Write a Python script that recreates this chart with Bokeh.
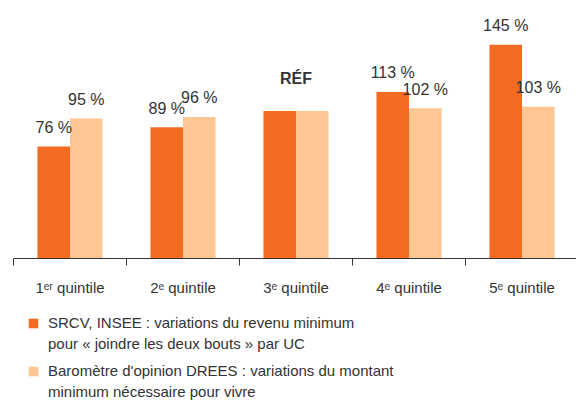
from bokeh.plotting import figure
from bokeh.layouts import column
from bokeh.models import Range1d, FixedTicker, Legend, LegendItem, ColumnDataSource
from bokeh.core.properties import value
from bokeh.embed import file_html
from bokeh.resources import INLINE

categories = ["1ᵉʳ quintile", "2ᵉ quintile", "3ᵉ quintile", "4ᵉ quintile", "5ᵉ quintile"]
srcv = [76, 89, 100, 113, 145]
barometre = [95, 96, 100, 102, 103]
srcv_labels = ["76 %", "89 %", "", "113 %", "145 %"]
baro_labels = ["95 %", "96 %", "", "102 %", "103 %"]
ref_label = "RÉF"
legend_srcv = ["SRCV, INSEE : variations du revenu minimum",
               "pour « joindre les deux bouts » par UC"]
legend_baro = ["Baromètre d'opinion DREES : variations du montant",
               "minimum nécessaire pour vivre"]

FONT = "Liberation Sans"
FS = "15px"
DARK = "#F26B21"
LIGHT = "#FDC692"
TXT = "#333333"

n = len(categories)
bw = 0.288
centers = [i + 0.5 for i in range(n)]

p = figure(width=576, height=308, output_backend="svg", toolbar_location=None,
           x_range=Range1d(0, 4.982), y_range=Range1d(0, 169.6),
           min_border_left=13, min_border_right=0, min_border_top=8, min_border_bottom=50)
p.outline_line_color = None
p.grid.visible = False
p.yaxis.visible = False

src1 = ColumnDataSource(dict(x=[c - bw / 2 for c in centers], top=srcv, lab=srcv_labels))
src2 = ColumnDataSource(dict(x=[c + bw / 2 for c in centers], top=barometre, lab=baro_labels))
p.vbar(x="x", top="top", width=bw, source=src1, fill_color=DARK, line_color=None)
p.vbar(x="x", top="top", width=bw, source=src2, fill_color=LIGHT, line_color=None)

for s in (src1, src2):
    p.text(x="x", y="top", text="lab", source=s, text_align="center", text_baseline="alphabetic",
           y_offset=-19, text_font=value(FONT), text_font_size="16px", text_color=TXT)

p.text(x=[centers[2]], y=[barometre[2]], text=[ref_label], text_align="center",
       text_baseline="alphabetic", y_offset=-33, text_font=value(FONT),
       text_font_size="16px", text_font_style="bold", text_color=TXT)

ax = p.xaxis[0]
ax.ticker = FixedTicker(ticks=centers, minor_ticks=list(range(n + 1)))
ax.major_label_overrides = {c: lab for c, lab in zip(centers, categories)}
ax.major_tick_out = 0
ax.major_tick_in = 0
ax.minor_tick_out = 7
ax.minor_tick_in = 0
ax.minor_tick_line_color = TXT
ax.axis_line_color = TXT
ax.axis_line_width = 1.2
ax.major_label_standoff = 13
ax.major_label_text_font = FONT
ax.major_label_text_font_size = FS
ax.major_label_text_color = TXT

# legend figure (its x range lies away from the bars, so only the legend shows)
pl = figure(width=576, height=92, output_backend="svg", toolbar_location=None,
            x_range=Range1d(-20, -19), y_range=Range1d(0, 1),
            min_border_left=0, min_border_right=0, min_border_top=0, min_border_bottom=0)
pl.axis.visible = False
pl.grid.visible = False
pl.outline_line_color = None
l1 = pl.vbar(x="x", top="top", width=bw, source=src1, fill_color=DARK, line_color=None)
l2 = pl.vbar(x="x", top="top", width=bw, source=src2, fill_color=LIGHT, line_color=None)
lb = pl.vbar(x="x", top="top", width=bw, source=src1, fill_alpha=0, line_alpha=0)


def make_legend(lines, rend, loc):
    return Legend(items=[LegendItem(label=lines[0], renderers=[rend]),
                         LegendItem(label=lines[1], renderers=[lb])],
                  location=loc, orientation="vertical",
                  glyph_width=12, glyph_height=12, label_standoff=9,
                  label_text_font=FONT, label_text_font_size=FS, label_text_color=TXT,
                  label_height=21, spacing=0, padding=0, margin=0,
                  border_line_color=None, background_fill_alpha=0)


pl.add_layout(make_legend(legend_srcv, l1, (14, 46)))
pl.add_layout(make_legend(legend_baro, l2, (14, -2)))

open("out.html", "w").write(file_html(column(p, pl, spacing=0), INLINE))
